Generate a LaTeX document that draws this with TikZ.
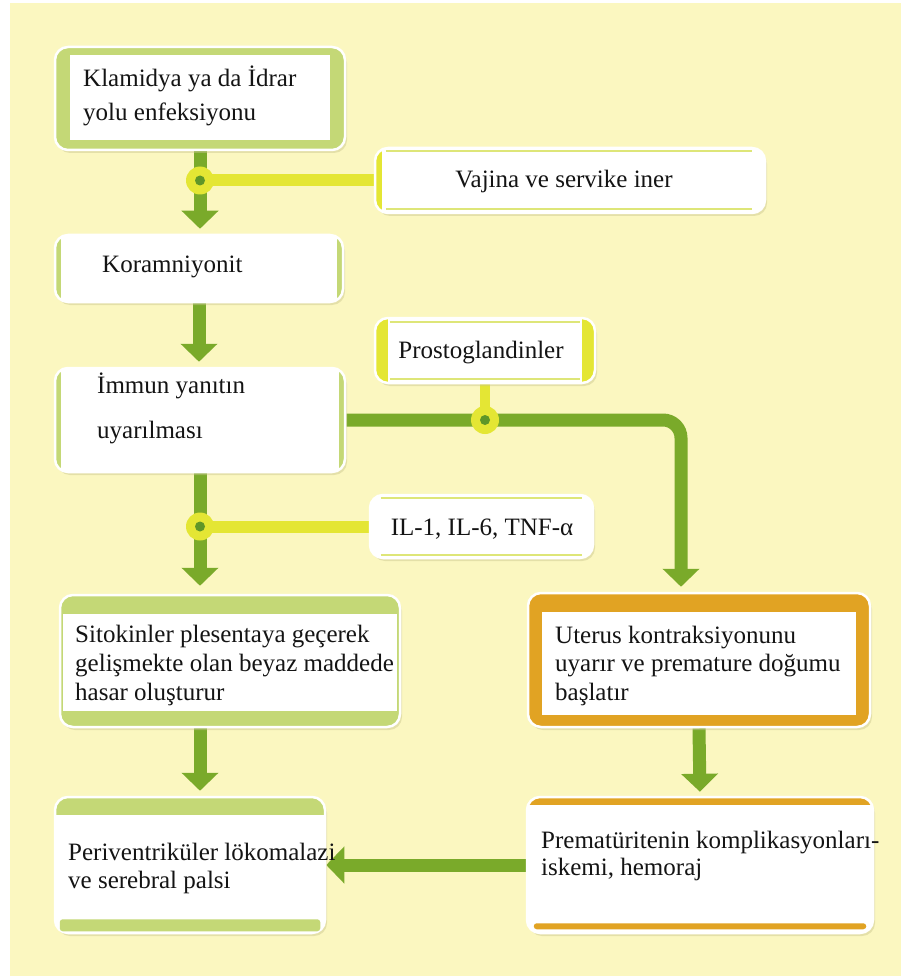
\documentclass[tikz,border=0pt]{standalone}
\usepackage{fontspec}
\setmainfont{Liberation Serif}
\usetikzlibrary{arrows.meta,shadows}

\definecolor{bgY}{RGB}{251,247,192}
\definecolor{grn}{RGB}{122,170,42}
\definecolor{lgrn}{RGB}{196,216,118}
\definecolor{yel}{RGB}{228,230,52}
\definecolor{orng}{RGB}{225,163,35}
\definecolor{dgrn}{RGB}{95,150,40}
\definecolor{ink}{RGB}{20,20,20}
\definecolor{pale}{RGB}{222,230,120}
\definecolor{shade}{RGB}{200,196,140}

\pgfdeclarelayer{paper}
\pgfdeclarelayer{links}
\pgfsetlayers{paper,links,main}

\tikzset{
  bx/.style={rectangle, rounded corners=13pt, inner sep=0pt, fill=white,
    draw=white, line width=2.5pt,
    drop shadow={shadow xshift=2pt, shadow yshift=-3pt, fill=shade, opacity=0.45, draw=none}},
  % colour everything, then punch a square white panel with the given left/top/right/bottom margins
  framed/.style n args={5}{path picture={
    \fill[#1, sharp corners] (path picture bounding box.south west) rectangle (path picture bounding box.north east);
    \fill[white, sharp corners] ([xshift=#2,yshift=-#3]path picture bounding box.north west)
      rectangle ([xshift=-#4,yshift=#5]path picture bounding box.south east);}},
  txt/.style={text=ink, align=left, inner sep=0pt, anchor=base west},
  garrow/.style={draw=grn, line width=13pt, -{Triangle[width=36pt,length=18pt]}},
  yline/.style={draw=yel, line width=12pt},
  thinrule/.style={draw=pale, line width=2pt},
}

\newcommand{\fs}[1]{\fontsize{25}{#1}\selectfont}

\begin{document}
\begin{tikzpicture}[x=1pt,y=-1pt]
\useasboundingbox (0,0) rectangle (900,976);
\begin{pgfonlayer}{paper}
  \fill[white] (-5,-5) rectangle (905,981);
  \fill[bgY] (10,3) rectangle (905,981);
\end{pgfonlayer}

% ---------- boxes ----------
\node[bx, framed={lgrn}{15pt}{8pt}{15pt}{10pt}, minimum width=290pt, minimum height=103pt] (kla) at (200,98.5) {};
\node[bx, framed={yel}{7pt}{0pt}{0pt}{0pt}, minimum width=390pt, minimum height=65pt] (vaj) at (570,180.5) {};
\node[bx, framed={lgrn}{6pt}{0pt}{6pt}{0pt}, minimum width=288pt, minimum height=67pt] (kor) at (199,268.5) {};
\node[bx, framed={lgrn}{6pt}{0pt}{6pt}{0pt}, minimum width=290pt, minimum height=104pt] (imm) at (200,420) {};
\node[bx, framed={yel}{13pt}{0pt}{13pt}{0pt}, minimum width=220pt, minimum height=65pt] (pro) at (485,350.5) {};
\node[bx, minimum width=223pt, minimum height=63pt] (il) at (481.5,526.5) {};
\node[bx, framed={lgrn}{3pt}{19pt}{3pt}{16pt}, minimum width=340pt, minimum height=132pt] (sit) at (230,661) {};
\node[bx, framed={orng}{14pt}{19pt}{14pt}{12pt}, minimum width=342pt, minimum height=134pt] (ute) at (699,660) {};
\node[bx, framed={orng}{0pt}{8pt}{0pt}{0pt}, minimum width=346pt, minimum height=136pt] (pre) at (700,865) {};
\node[bx, framed={lgrn}{0pt}{18pt}{0pt}{0pt}, minimum width=270pt, minimum height=136pt] (per) at (190,865) {};

% thin rules and inset bars inside some boxes
\draw[thinrule] ([xshift=12pt,yshift=-4pt]vaj.north west) -- ([xshift=-14pt,yshift=-4pt]vaj.north east);
\draw[thinrule] ([xshift=12pt,yshift=5pt]vaj.south west) -- ([xshift=-14pt,yshift=5pt]vaj.south east);
\draw[thinrule] ([xshift=16pt,yshift=-5pt]pro.north west) -- ([xshift=-16pt,yshift=-5pt]pro.north east);
\draw[thinrule] ([xshift=16pt,yshift=5pt]pro.south west) -- ([xshift=-16pt,yshift=5pt]pro.south east);
\draw[thinrule] ([xshift=12pt,yshift=-4pt]il.north west) -- ([xshift=-12pt,yshift=-4pt]il.north east);
\draw[thinrule] ([xshift=12pt,yshift=4pt]il.south west) -- ([xshift=-12pt,yshift=4pt]il.south east);
\fill[orng, rounded corners=3pt] ([xshift=8pt,yshift=5pt]pre.south west) rectangle ([xshift=-8pt,yshift=11pt]pre.south east);
\fill[lgrn, rounded corners=3pt] ([xshift=6pt,yshift=3pt]per.south west) rectangle ([xshift=-6pt,yshift=15pt]per.south east);

% ---------- texts (anchored at the baseline of the last line) ----------
\node[txt, font=\fs{34}] (tkla) at (83,121) {Klamidya ya da İdrar\\yolu enfeksiyonu};
\node[txt, font=\fs{30}, anchor=base] (tvaj) at (564,188) {Vajina ve servike iner};
\node[txt, font=\fs{30}] (tkor) at (102,272) {Koramniyonit};
\node[txt, font=\fs{45}] (timm) at (97,438) {İmmun yanıtın\\uyarılması};
\node[txt, font=\fs{30}, anchor=base] (tpro) at (481,358) {Prostoglandinler};
\node[txt, font=\fs{30}, anchor=base] (til) at (482,535) {IL-1, IL-6, TNF-α};
\node[txt, font=\fs{29}] (tsit) at (75,700) {Sitokinler plesentaya geçerek\\gelişmekte olan beyaz maddede\\hasar oluşturur};
\node[txt, font=\fs{28.5}] (tute) at (555,700) {Uterus kontraksiyonunu\\uyarır ve premature doğumu\\başlatır};
\node[txt, font=\fs{27}] (tpre) at (541,875) {Prematüritenin komplikasyonları-\\iskemi, hemoraj};
\node[txt, font=\fs{28}] (tper) at (68,888) {Periventriküler lökomalazi\\ve serebral palsi};

% ---------- junction points ----------
\coordinate (j1) at (kla.south |- vaj.west);
\coordinate (j2) at (imm.south |- il.west);
\coordinate (j3) at (pro.south |- imm.east);
\coordinate (bend) at ([xshift=-18pt]ute.north);

% ---------- connectors ----------
\begin{pgfonlayer}{links}
  \draw[garrow, shorten >=5pt] (kla.south) -- (kor.north -| kla.south);
  \draw[garrow, shorten >=5pt] (kor.south) -- (imm.north -| kor.south);
  \draw[garrow, shorten >=8pt] (imm.south) -- (sit.north -| imm.south);
  \draw[garrow, shorten >=5pt, rounded corners=18pt] (imm.east) -| (bend);
  \draw[garrow, shorten >=5pt] (sit.south -| j2) -- (per.north -| j2);
  \draw[garrow, shorten >=4pt] (ute.south) -- (pre.north);
  \draw[garrow] (pre.west) -- (per.east);
  \draw[yline] (j1) -- (vaj.west);
  \draw[yline] (j2) -- (il.west);
  \draw[yline, line width=10pt] (pro.south) -- (j3);
\end{pgfonlayer}

\foreach \j in {j1,j2,j3}{
  \fill[yel] (\j) circle (14pt);
  \fill[dgrn] (\j) circle (5pt);
}
\end{tikzpicture}
\end{document}
